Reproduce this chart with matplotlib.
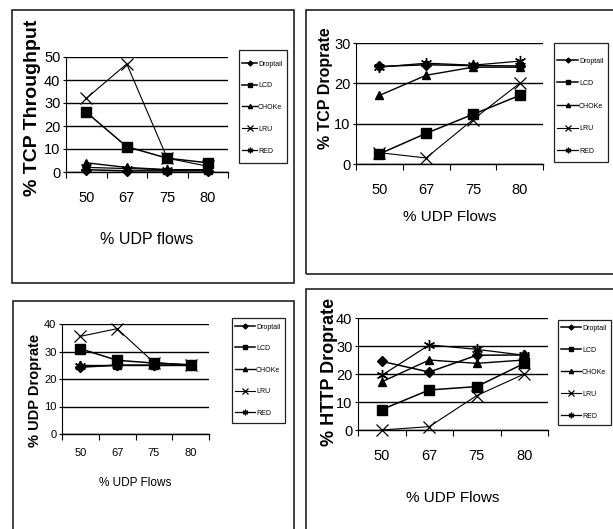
import matplotlib
matplotlib.use("Agg")
from matplotlib import pyplot as plt
from matplotlib.patches import Rectangle

W, H = 613, 529

udp_flows = ["50", "67", "75", "80"]
schemes = ["Droptail", "LCD", "CHOKe", "LRU", "RED"]

# % TCP Throughput
tcp_thr_droptail = [1, 0.5, 0.5, 0.5]
tcp_thr_lcd = [26, 11, 6, 4]
tcp_thr_choke = [4, 2, 1, 1]
tcp_thr_lru = [32, 47, 6, 2.5]
tcp_thr_red = [2, 1.5, 1, 1]

# % TCP Droprate
tcp_drop_droptail = [24.2, 24.6, 24.4, 24.3]
tcp_drop_lcd = [2.5, 7.6, 12.3, 17]
tcp_drop_choke = [17, 22, 24, 24]
tcp_drop_lru = [2.8, 1.5, 11, 20]
tcp_drop_red = [24, 25, 24.5, 25.5]

# % UDP Droprate
udp_drop_droptail = [24.3, 25, 25, 25]
udp_drop_lcd = [31, 26.8, 25.8, 25.2]
udp_drop_choke = [25, 25, 25, 25]
udp_drop_lru = [35.5, 38.3, 26, 25]
udp_drop_red = [24.6, 25, 25, 25]

# % HTTP Droprate
http_drop_droptail = [24.5, 20.7, 26.7, 26.8]
http_drop_lcd = [7.3, 14.3, 15.5, 23.8]
http_drop_choke = [17.2, 25, 23.8, 25]
http_drop_lru = [0, 1.2, 12.3, 20]
http_drop_red = [19.5, 30.4, 28.8, 26.7]

narrow = ["Liberation Sans Narrow", "Liberation Sans", "DejaVu Sans"]
bold = ["Liberation Sans", "DejaVu Sans"]

styles = {
    "Droptail": dict(marker="D", ms=5, lw=1.1),
    "LCD": dict(marker="s", ms=7, lw=1.1),
    "CHOKe": dict(marker="^", ms=6, lw=1.0),
    "LRU": dict(marker="x", ms=8, lw=0.8, mew=0.9),
    "RED": dict(marker=(6, 2, 0), ms=8, lw=0.9, mew=1.0),
}

fig = plt.figure(figsize=(W / 100, H / 100), dpi=100)


def box(x0, x1, yt, yb, lw):
    fig.add_artist(Rectangle((x0 / W, 1 - yb / H), (x1 - x0) / W, (yb - yt) / H,
                             transform=fig.transFigure, fill=False,
                             edgecolor="#222222", lw=lw))


# outer boxes of the four pasted charts
box(12, 294, 10, 283, 1.2)
box(306, 640, 10, 274, 1.2)
box(13, 294, 301, 560, 1.2)
box(306, 640, 289, 560, 1.2)


def panel(area, ymax, series, ylabel, xlabel, leg, rows, tick_fs, ylab_fs,
          xlab_fs, xlab_y, ylab_pos):
    x0, x1, yt, yb = area
    ax = fig.add_axes([x0 / W, 1 - yb / H, (x1 - x0) / W, (yb - yt) / H])
    xs = range(len(udp_flows))
    for name, vals in zip(schemes, series):
        ax.plot(xs, vals, color="black", label=name, clip_on=False, **styles[name])
    ax.set_xlim(-0.5, len(udp_flows) - 0.5)
    ax.set_ylim(0, ymax)
    ax.set_yticks(range(0, ymax + 1, 10))
    ax.set_xticks([i + 0.5 for i in range(-1, len(udp_flows))])
    ax.set_xticklabels([])
    ax.set_xticks(list(xs), minor=True)
    ax.set_xticklabels(udp_flows, minor=True, family=narrow, fontsize=tick_fs)
    ax.tick_params(axis="x", which="minor", length=0, pad=tick_fs * 1.3)
    ax.tick_params(axis="x", which="major", length=4, width=0.8, direction="out")
    ax.tick_params(axis="y", length=2.5, width=0.8, pad=1.5)
    for lab in ax.get_yticklabels():
        lab.set_family(narrow)
        lab.set_fontsize(tick_fs)
    ax.grid(axis="y", color="black", lw=1.0)
    ax.set_axisbelow(True)
    for s in ["top", "right"]:
        ax.spines[s].set_visible(False)
    ax.spines["left"].set_linewidth(0.8)
    ax.spines["bottom"].set_linewidth(1.0)
    fig.text(ylab_pos[0] / W, 1 - ylab_pos[1] / H, ylabel, rotation=90,
             ha="center", va="center", family=bold, weight="bold", fontsize=ylab_fs)
    fig.text((x0 + x1) / 2 / W, 1 - xlab_y / H, xlabel, ha="center", va="center",
             family=narrow, fontsize=xlab_fs)

    # legend: frame drawn as its own box, entries placed on the row pitch
    lx0, lx1, lyt, lyb = leg
    row_top, row_bot = rows
    box(lx0, lx1, lyt, lyb, 0.9)
    fs = 5.0
    fs_px = fs * 100 / 72
    pitch = (row_bot - row_top) / (len(schemes) - 1)
    handle_px = (lx1 - lx0) - 6 - 27
    ax.legend(loc="center left",
              bbox_to_anchor=((lx0 + 3) / W, 1 - (row_top + row_bot) / 2 / H),
              bbox_transform=fig.transFigure, borderaxespad=0, borderpad=0,
              prop=dict(family=narrow, size=fs),
              handleheight=1.0, labelspacing=pitch / fs_px - 1.0,
              handlelength=handle_px / fs_px, handletextpad=0.15,
              frameon=False, markerscale=0.5)
    return ax


panel((66, 228, 57, 172), 50,
      [tcp_thr_droptail, tcp_thr_lcd, tcp_thr_choke, tcp_thr_lru, tcp_thr_red],
      "% TCP Throughput", "% UDP flows", (239, 287, 50, 163), (65, 150),
      10.5, 14, 11.5, 240, (33, 108))

panel((356, 543, 43, 164), 30,
      [tcp_drop_droptail, tcp_drop_lcd, tcp_drop_choke, tcp_drop_lru, tcp_drop_red],
      "% TCP Droprate", "% UDP Flows", (554, 608, 43, 162), (62, 150),
      10.5, 11.5, 11, 217, (326, 88))

panel((62, 209, 324, 434), 40,
      [udp_drop_droptail, udp_drop_lcd, udp_drop_choke, udp_drop_lru, udp_drop_red],
      "% UDP Droprate", "% UDP Flows", (232, 285, 318, 423), (328, 412),
      8, 10.5, 8.5, 483, (35, 390))

panel((358, 548, 318, 430), 40,
      [http_drop_droptail, http_drop_lcd, http_drop_choke, http_drop_lru, http_drop_red],
      "% HTTP Droprate", "% UDP Flows", (558, 611, 320, 425), (329, 415),
      10.5, 13, 11, 498, (329, 372))

plt.savefig("out.png", dpi=100)
plt.close()
